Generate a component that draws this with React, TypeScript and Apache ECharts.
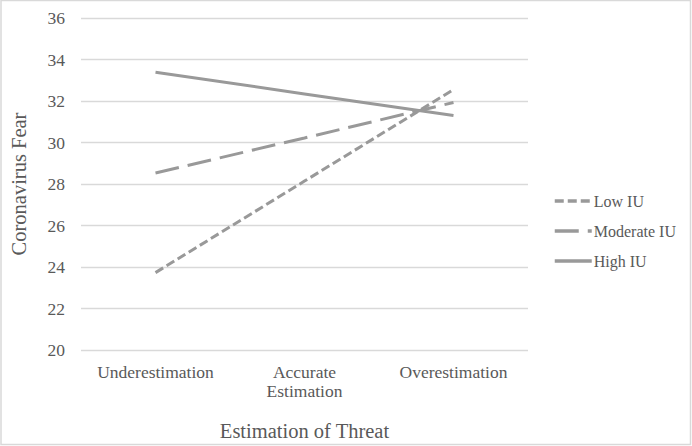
import React, { useEffect, useRef } from "react";
import * as echarts from "echarts";

const categories = ["Underestimation", "Accurate\nEstimation", "Overestimation"];
const lowIU = [23.73, 28.14, 32.55];
const moderateIU = [28.53, 30.22, 31.93];
const highIU = [33.39, 32.34, 31.3];
const yTicks = { min: 20, max: 36, interval: 2 };

const FONT = '"Liberation Serif", "Times New Roman", serif';
const LINE = "#999999";
const TEXT = "#595959";

export default function App() {
  const ref = useRef<HTMLDivElement>(null);
  useEffect(() => {
    if (!ref.current) return;
    const chart = echarts.init(ref.current, undefined, { renderer: "svg" });
    const mk = (name: string, data: number[], type: any) => ({
      name,
      type: "line",
      data,
      symbol: "none",
      lineStyle: { color: LINE, width: 3, type },
      itemStyle: { color: LINE },
    });
    chart.setOption({
      animation: false,
      backgroundColor: "#ffffff",
      textStyle: { fontFamily: FONT },
      graphic: [
        {
          type: "rect",
          shape: { x: 1, y: 0.5, width: 689.5, height: 444 },
          style: { fill: "none", stroke: "#d9d9d9", lineWidth: 1.5 },
          silent: true,
        },
      ],
      grid: { left: 80, right: 164, top: 18, bottom: 96 },
      legend: {
        orient: "vertical",
        left: 548,
        top: 188,
        itemWidth: 37,
        itemHeight: 14,
        itemGap: 14,
        itemStyle: { opacity: 0 },
        lineStyle: { width: 3.5 },
        textStyle: { fontFamily: FONT, fontSize: 16, color: TEXT, padding: [0, 0, 0, -3] },
        data: ["Low IU", "Moderate IU", "High IU"],
      },
      xAxis: {
        type: "category",
        data: categories,
        name: "Estimation of Threat",
        nameLocation: "middle",
        nameGap: 70,
        nameTextStyle: { fontFamily: FONT, fontSize: 20.5, color: TEXT },
        axisLine: { show: false },
        axisTick: { show: false },
        axisLabel: {
          fontFamily: FONT,
          fontSize: 17.5,
          color: TEXT,
          margin: 12,
          lineHeight: 19.5,
          interval: 0,
        },
      },
      yAxis: {
        type: "value",
        min: yTicks.min,
        max: yTicks.max,
        interval: yTicks.interval,
        name: "Coronavirus Fear",
        nameLocation: "middle",
        nameGap: 52,
        nameTextStyle: { fontFamily: FONT, fontSize: 20.5, color: TEXT },
        axisLine: { show: false },
        axisTick: { show: false },
        axisLabel: { fontFamily: FONT, fontSize: 17.5, color: TEXT, margin: 16 },
        splitLine: { lineStyle: { color: "#d9d9d9", width: 1.3 } },
      },
      series: [
        mk("Low IU", lowIU, [9, 4]),
        mk("Moderate IU", moderateIU, [24, 9]),
        mk("High IU", highIU, "solid"),
      ],
    });
    return () => chart.dispose();
  }, []);
  return (
    <div
      ref={ref}
      style={{ position: "fixed", left: 0, top: 0, width: 692, height: 446, background: "#fff" }}
    />
  );
}
